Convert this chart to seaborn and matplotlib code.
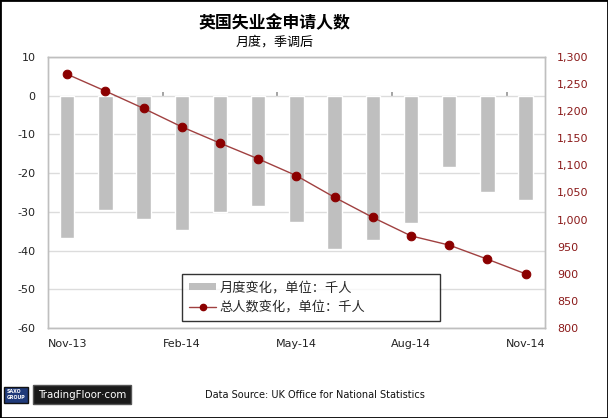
import numpy as np
import pandas as pd
import matplotlib
matplotlib.use('Agg')
import matplotlib.pyplot as plt
import seaborn as sns
from matplotlib.patches import Patch
from matplotlib.lines import Line2D

months = ['Nov-13', 'Dec-13', 'Jan-14', 'Feb-14', 'Mar-14', 'Apr-14', 'May-14',
          'Jun-14', 'Jul-14', 'Aug-14', 'Sep-14', 'Oct-14', 'Nov-14']
monthly_change = [-36.7, -29.5, -31.9, -34.7, -30.0, -28.5, -32.7,
                  -39.5, -37.3, -33.0, -18.5, -25.0, -26.9]
total_claimants = [1268, 1237, 1205, 1171, 1141, 1112, 1081,
                   1041, 1004, 970, 953, 927, 900]
tick_months = ['Nov-13', 'Feb-14', 'May-14', 'Aug-14', 'Nov-14']

df = pd.DataFrame({'month': months, 'change': monthly_change,
                   'total': total_claimants, 'pos': np.arange(len(months))})

sns.set_theme(style='white')
plt.rcParams['font.family'] = ['DejaVu Sans', 'Noto Sans CJK SC']
plt.rcParams['axes.unicode_minus'] = False

bar_color = '#BFBFBF'
dark_red = '#8B0000'
line_red = '#A04040'

fig = plt.figure(figsize=(6.08, 4.18), dpi=100)
ax = fig.add_axes([0.079, 0.215, 0.817, 0.649])

sns.barplot(data=df, x='month', y='change', color=bar_color, width=0.375,
            saturation=1, ax=ax, zorder=2)
ax.set_ylim(-60, 10)
ax.set_yticks(range(-60, 11, 10))
ax.yaxis.grid(True, color='#DCDCDC', linewidth=1, zorder=0)
ax.set_axisbelow(True)
ax.set_xlim(-0.5, len(months) - 0.5)
ax.set_xticks([months.index(m) for m in tick_months])
ax.set_xticklabels(tick_months)
ax.set_xlabel('')
ax.set_ylabel('')
ax.tick_params(axis='x', length=0, pad=8, labelsize=8, colors='#222222')
ax.tick_params(axis='y', length=0, pad=9, labelsize=8, colors='#222222')
for s in ax.spines.values():
    s.set_color('#BFBFBF')
    s.set_linewidth(1)

# small category-group ticks on the zero line
zero_axis = ax.secondary_xaxis(60 / 70)
zero_axis.set_xticks([2.5, 5.5, 8.5, 11.5])
zero_axis.set_xticklabels([])
zero_axis.tick_params(direction='out', length=3, color='#999999')
zero_axis.spines['bottom'].set_visible(False)
zero_axis.spines['top'].set_visible(False)

ax2 = ax.twinx()
sns.lineplot(data=df, x='pos', y='total', ax=ax2, color=line_red, linewidth=1,
             marker='o', markersize=6.2, markerfacecolor=dark_red,
             markeredgecolor=dark_red, zorder=3)
ax2.set_ylim(800, 1300)
ax2.set_yticks(range(800, 1301, 50))
ax2.set_yticklabels([f'{v:,}' for v in range(800, 1301, 50)])
ax2.set_xlim(-0.5, len(months) - 0.5)
ax2.set_ylabel('')
ax2.set_xlabel('')
ax2.tick_params(axis='y', length=0, pad=9, labelsize=8, colors='#8B1A1A')
for s in ax2.spines.values():
    s.set_color('#BFBFBF')
    s.set_linewidth(1)

handles = [Patch(facecolor=bar_color, edgecolor='none'),
           Line2D([0], [0], color=line_red, linewidth=1, marker='o',
                  markersize=4.5, markerfacecolor=dark_red, markeredgecolor=dark_red)]
labels = ['月度变化，单位：千人', '总人数变化，单位：千人']
leg = ax2.legend(handles, labels, loc='lower left',
                 bbox_to_anchor=(0.27, 0.026, 0.519, 0.18), mode='expand',
                 frameon=True, fancybox=False, fontsize=9.5, handlelength=2.0,
                 handleheight=0.5, handletextpad=0.3, borderpad=0.55,
                 labelspacing=0.5, borderaxespad=0)
leg.get_frame().set_edgecolor('black')
leg.get_frame().set_linewidth(1)

fig.text(0.452, 0.945, '英国失业金申请人数', ha='center', va='center',
         fontsize=12.2, fontweight='bold', color='black')
fig.text(0.452, 0.899, '月度，季调后', ha='center', va='center',
         fontsize=9.4, color='black')
fig.text(0.518, 0.055, 'Data Source: UK Office for National Statistics',
         ha='center', va='center', fontsize=7, color='#111111')
fig.text(0.011, 0.056, 'SAXO\nGROUP', ha='left', va='center', fontsize=3.4,
         color='white', fontweight='bold', linespacing=1.3,
         bbox=dict(boxstyle='square,pad=0.5', facecolor='#1F3A7A', edgecolor='#111111'))
fig.text(0.062, 0.056, 'TradingFloor·com', ha='left', va='center', fontsize=7.4,
         color='white',
         bbox=dict(boxstyle='square,pad=0.45', facecolor='#1A1A1A', edgecolor='#555555'))

fig.patches.append(plt.Rectangle((0, 0), 1, 1, transform=fig.transFigure,
                                 fill=False, edgecolor='black', linewidth=2))

fig.savefig('out.png', dpi=100)
